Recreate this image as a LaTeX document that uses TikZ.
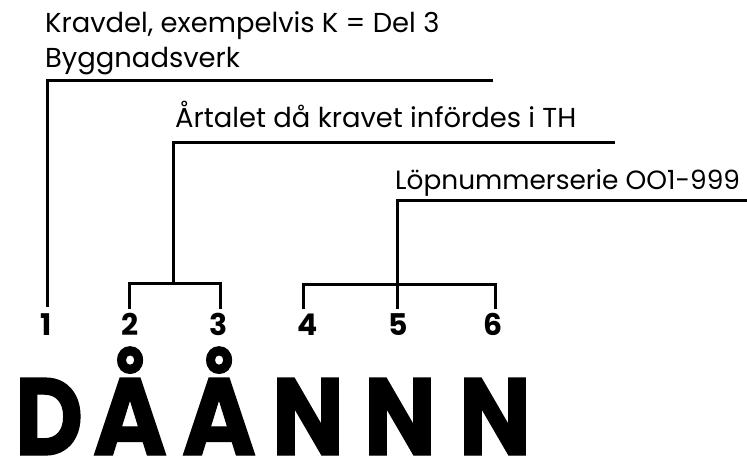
\documentclass[tikz,border=0pt]{standalone}
\usepackage{fontspec}
\setmainfont{Poppins}
\newfontfamily\bigfont{Poppins}[BoldFeatures={FakeBold=1.2}]
\begin{document}
\begin{tikzpicture}[x=1bp,y=-1bp,
  lbl/.style={font=\fontsize{27.5}{30}\selectfont, anchor=base west, inner sep=0pt},
  dig/.style={font=\fontsize{30}{32}\selectfont\bfseries, anchor=base, inner sep=0pt},
  big/.style={font=\fontsize{110}{120}\bigfont\bfseries, anchor=base, inner sep=0pt},
  conn/.style={line width=3bp, black, line join=miter}]
\useasboundingbox (0,0) rectangle (747,457);
% labels
\node[lbl] (kravdel) at (45,33) {Kravdel, exempelvis K = Del 3};
\node[lbl] (bygg) at (45,68) {Byggnadsverk};
\node[lbl] (artal) at (175,128) {Årtalet då kravet infördes i TH};
\node[lbl, font=\fontsize{26.5}{30}\selectfont] (lop) at (395,190) {Löpnummerserie OO1-999};
% digits
\node[dig] (d1) at (46,336) {1};
\node[dig] (d2) at (130,336) {2};
\node[dig] (d3) at (219,336) {3};
\node[dig] (d4) at (308,336) {4};
\node[dig] (d5) at (398,336) {5};
\node[dig] (d6) at (493,336) {6};
% big letters
\node[big] (L1) at (49,455) {\scalebox{0.86}[1]{D}};
\node[big] (L2) at (130,455) {\scalebox{0.92}[1]{Å}};
\node[big] (L3) at (219,455) {\scalebox{0.92}[1]{Å}};
\node[big] (L4) at (308,455) {\scalebox{0.88}[1]{N}};
\node[big] (L5) at (400,455) {\scalebox{0.88}[1]{N}};
\node[big] (L6) at (495,455) {\scalebox{0.88}[1]{N}};
% connector points
\coordinate (h1e) at (493,81);
\coordinate (h1s) at (47,81);
\coordinate (e1) at (47,307);
\coordinate (h2e) at (615,143);
\coordinate (h2s) at (173,143);
\coordinate (b23) at (173,284);
\coordinate (b2) at (129,284);
\coordinate (b3) at (220,284);
\coordinate (e2) at (129,309);
\coordinate (e3) at (220,309);
\coordinate (h3e) at (747,201);
\coordinate (h3s) at (397,201);
\coordinate (e5) at (397,309);
\coordinate (b4) at (303,285);
\coordinate (b6) at (495,285);
\coordinate (e4) at (303,309);
\coordinate (e6) at (495,309);
% connectors
\draw[conn] (h1e) -- (h1s) -- (e1);
\draw[conn] (h2e) -- (h2s) -- (b23);
\draw[conn] (e2) -- (b2) -- (b3) -- (e3);
\draw[conn] (h3e) -- (h3s) -- (e5);
\draw[conn] (e4) -- (b4) -- (b6) -- (e6);
\end{tikzpicture}
\end{document}
